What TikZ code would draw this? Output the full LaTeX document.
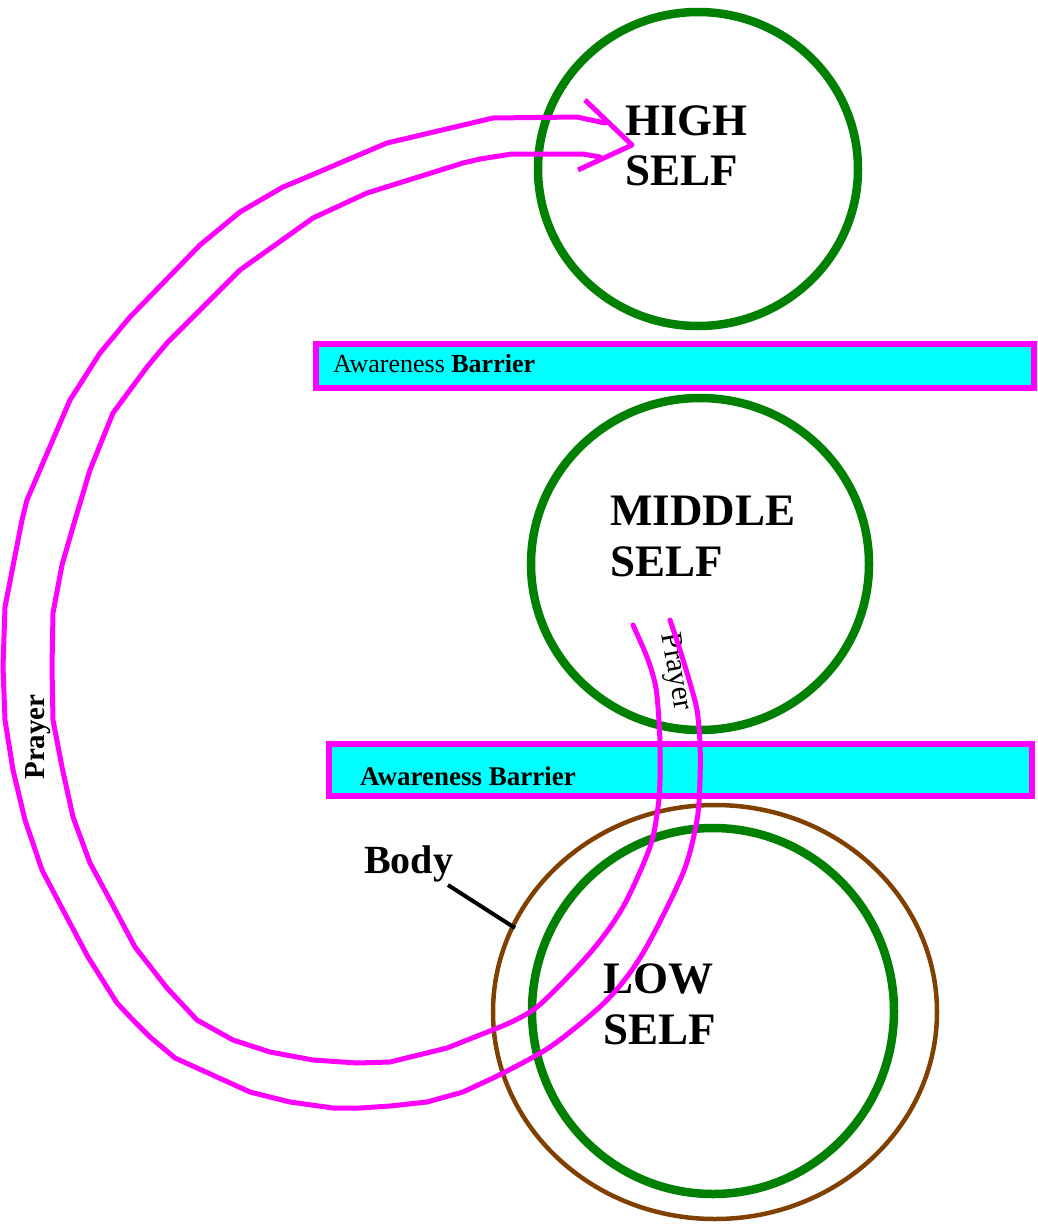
\documentclass[tikz,border=0pt]{standalone}
\usepackage{fontspec}
\setmainfont{Liberation Serif}
\definecolor{selfgreen}{RGB}{0,128,0}
\definecolor{bodybrown}{RGB}{128,64,0}
\definecolor{prayermag}{RGB}{255,0,255}
\definecolor{barcyan}{RGB}{0,255,255}
\begin{document}
\begin{tikzpicture}[x=1pt,y=-1pt,
  selfring/.style={draw=selfgreen,line width=8.5pt},
  bodyring/.style={draw=bodybrown,line width=4.5pt},
  barrierbox/.style={draw=prayermag,fill=barcyan,line width=6pt},
  prayerline/.style={draw=prayermag,line width=5pt,line join=round,line cap=round},
  selflabel/.style={anchor=north west,inner sep=0pt,align=left,font=\bfseries\fontsize{45}{51}\selectfont},
  bartext/.style={anchor=base west,inner sep=0pt},
  prayerlabel/.style={inner sep=0pt}]
\useasboundingbox (0,0) rectangle (1037,1224);
% circles
\draw[selfring] (698,169) ellipse [x radius=160, y radius=157];
\draw[selfring] (700,564) ellipse [x radius=169, y radius=166];
\draw[bodyring] (715,1012) ellipse [x radius=222, y radius=207];
\draw[selfring] (713,1011) ellipse [x radius=181, y radius=183];
% barriers
\draw[barrierbox] (316,344) rectangle (1034,388);
\draw[barrierbox] (328.5,744) rectangle (1032,796);
\node[bartext,font=\fontsize{26}{30}\selectfont] (bar1) at (333,372) {Awareness \textbf{Barrier}};
\node[bartext,font=\bfseries\fontsize{27}{30}\selectfont] (bar2) at (360,785) {Awareness Barrier};
% self labels
\node[selflabel] (high) at (625,105) {HIGH\\SELF};
\node[selflabel] (middle) at (610,496) {MIDDLE\\SELF};
\node[selflabel] (low) at (603,963) {LOW\\SELF};
% prayer labels
\node[prayerlabel,rotate=90,font=\bfseries\fontsize{29}{32}\selectfont] (prayL) at (38,737) {Prayer};
\node[prayerlabel,rotate=-80,font=\fontsize{30}{34}\selectfont] (prayM) at (675,672) {Prayer};
% body label
\node[bartext,font=\bfseries\fontsize{40}{44}\selectfont] (body) at (364,873) {Body};
\coordinate (bodyA) at (448,885);
\coordinate (bodyB) at (515,928);
\draw[line width=4pt] (bodyA) -- (bodyB);
% prayer channel: outer line
\draw[prayerline] (605,123) -- (577,117) -- (493,118) -- (387,143) -- (300,180) -- (283,187) -- (240,212) -- (200,245) -- (130,317) -- (100,353) -- (70,400) -- (27,500) -- (22,520) -- (5,607) -- (3,667) -- (5,720) -- (13,770) -- (25,820) -- (42,870) -- (63,910) -- (88,957) -- (117,1003) -- (133,1020) -- (150,1037) -- (175,1058) -- (217,1077) -- (250,1092) -- (290,1102) -- (333,1108) -- (360,1108) -- (390,1106) -- (427,1102) -- (463,1092) -- (493,1078)
  plot[smooth,tension=0.5] coordinates {(493,1078) (550,1047) (607,1000) (643,953) (683,873) (697,820) (700,780) (700,743) (697,710) (690,683) (680,650) (670,620)};
% prayer channel: inner line
\draw[prayerline] (600,157) -- (583,154) -- (512,154) -- (480,159) -- (463,163) -- (367,193) -- (313,218) -- (240,270) -- (167,343) -- (147,367) -- (113,413) -- (90,470) -- (75,520) -- (62,565) -- (53,613) -- (52,667) -- (53,720) -- (62,767) -- (73,817) -- (90,863) -- (110,900) -- (135,947) -- (167,988) -- (197,1020) -- (233,1040) -- (270,1052) -- (313,1060) -- (357,1063) -- (390,1062) -- (447,1048) -- (500,1027)
  plot[smooth,tension=0.5] coordinates {(500,1027) (537,1007) (590,953) (623,907) (650,847) (658,807) (660,780) (660,743) (658,707) (655,683) (647,657) (633,625)};
% arrowhead
\coordinate (tipA) at (585,100);
\coordinate (tip) at (632,145);
\coordinate (tipB) at (578,170);
\draw[prayerline,line cap=butt] (tipA) -- (tip) -- (tipB);
\end{tikzpicture}
\end{document}
